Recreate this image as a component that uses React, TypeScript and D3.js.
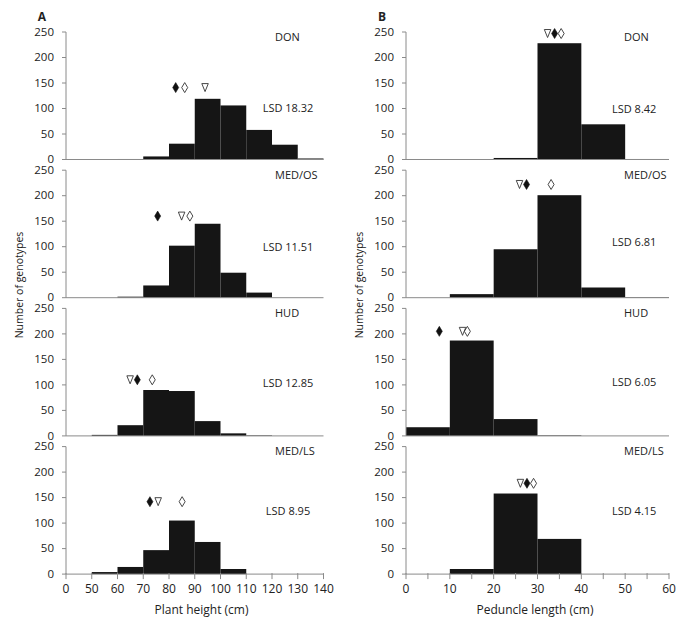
import React from 'react';
import * as d3 from 'd3';

// ---- data ----
const sites = ['DON', 'MED/OS', 'HUD', 'MED/LS'];

// Panel A: plant height, categorical-looking axis
const tickLabelsA = [0, 50, 60, 70, 80, 90, 100, 110, 120, 130, 140];
const donA = [0, 0, 1, 6, 31, 119, 106, 58, 29, 2];
const medosA = [0, 0, 2, 24, 102, 145, 49, 10, 0, 0];
const hudA = [0, 2, 21, 90, 88, 29, 5, 1, 0, 0];
const medlsA = [0, 4, 14, 47, 105, 63, 10, 0, 0, 0];
const lsdA = ['18.32', '11.51', '12.85', '8.95'];
const filledDiamondA = [82.6, 75.6, 67.7, 72.6];
const openDiamondA = [86.1, 88.1, 73.5, 85.1];
const triangleA = [94.0, 84.9, 64.9, 75.8];
const markerLevelA = [141, 160, 110, 142];

// Panel B: peduncle length
const binEdgesB = [0, 10, 20, 30, 40, 50, 60];
const donB = [0, 0, 3, 228, 69, 1];
const medosB = [0, 7, 95, 201, 20, 1];
const hudB = [17, 187, 33, 1, 0, 0];
const medlsB = [0, 10, 158, 69, 0, 0];
const lsdB = ['8.42', '6.81', '6.05', '4.15'];
const filledDiamondB = [33.9, 27.5, 7.6, 27.6];
const openDiamondB = [35.4, 33.1, 14.0, 29.1];
const triangleB = [32.3, 25.9, 12.9, 26.1];
const markerLevelB = [247, 222, 205, 178];

const yTicks = [0, 50, 100, 150, 200, 250];

// ---- layout ----
const W = 690, H = 628;
const rowTop0 = 32, rowStep = 138.2, rowH = 127.5;
const axA = { x0: 66, x1: 323.5 };
const axB = { x0: 406, x1: 669 };
const lsdOffset = [80, 80.5, 78.5, 68];
const lsdOffsetB = [81, 75.5, 77.5, 68.3];
const FONT = "'Open Sans', 'DejaVu Sans', sans-serif";
const AXIS = '#8a8a8a';
const BAR = '#151515';

function diamondPath(cx: number, cy: number, w = 6, h = 10) {
  return `M${cx},${cy - h / 2}L${cx + w / 2},${cy}L${cx},${cy + h / 2}L${cx - w / 2},${cy}Z`;
}
function trianglePath(cx: number, cy: number, w = 6.5, h = 8) {
  return `M${cx - w / 2},${cy - h / 2}L${cx + w / 2},${cy - h / 2}L${cx},${cy + h / 2}Z`;
}

type PanelProps = {
  idx: number;
  x: d3.ScaleLinear<number, number>;
  edges: number[];
  values: number[];
  ax: { x0: number; x1: number };
  site: string;
  lsd: string;
  lsdX: number;
  lsdAnchor: 'middle' | 'start';
  lsdOff: number;
  siteX: number;
  fd: number;
  od: number;
  tr: number;
  lvl: number;
};

function Panel(p: PanelProps) {
  const top = rowTop0 + p.idx * rowStep;
  const y = d3.scaleLinear().domain([0, 250]).range([top + rowH, top]);
  const y0 = y(0);
  const my = y(p.lvl);
  return (
    <g>
      {p.values.map((v, i) =>
        v > 0 ? (
          <rect
            key={i}
            x={p.x(p.edges[i])}
            width={p.x(p.edges[i + 1]) - p.x(p.edges[i])}
            y={y(v)}
            height={y0 - y(v)}
            fill={BAR}
          />
        ) : null
      )}
      {/* y axis */}
      <line x1={p.ax.x0} x2={p.ax.x0} y1={y(250)} y2={y0} stroke={AXIS} strokeWidth={1} />
      {yTicks.map((t) => (
        <g key={t}>
          <line x1={p.ax.x0 - 4} x2={p.ax.x0} y1={y(t)} y2={y(t)} stroke={AXIS} />
          <text x={p.ax.x0 - 12} y={y(t)} dy="0.33em" textAnchor="end" fontSize={11.5} fill="#222" fontFamily={FONT}>
            {t}
          </text>
        </g>
      ))}
      {/* x axis line */}
      <line x1={p.ax.x0} x2={p.ax.x1} y1={y0} y2={y0} stroke={AXIS} strokeWidth={1} />
      {/* markers */}
      <path d={diamondPath(p.x(p.fd), my)} fill="#111" stroke="#111" strokeWidth={0.6} />
      <path d={diamondPath(p.x(p.od), my)} fill="#fff" stroke="#333" strokeWidth={0.9} />
      <path d={trianglePath(p.x(p.tr), my)} fill="#fff" stroke="#333" strokeWidth={0.9} />
      <text x={p.siteX} y={top + 8.5} fontSize={11} fill="#222" fontFamily={FONT}>
        {p.site}
      </text>
      <text x={p.lsdX} y={top + p.lsdOff} textAnchor={p.lsdAnchor} fontSize={11} fill="#222" fontFamily={FONT}>
        {'LSD ' + p.lsd}
      </text>
    </g>
  );
}

export default function App() {
  const xA = d3
    .scaleLinear()
    .domain(tickLabelsA)
    .range(tickLabelsA.map((_, i) => axA.x0 + (i * (axA.x1 - axA.x0)) / (tickLabelsA.length - 1)));
  const xB = d3.scaleLinear().domain([0, 60]).range([axB.x0, axB.x1]);
  const dataA = [donA, medosA, hudA, medlsA];
  const dataB = [donB, medosB, hudB, medlsB];
  const bottomY0 = rowTop0 + 3 * rowStep + rowH;
  const ticksB = d3.range(0, 61, 5);

  return (
    <svg width={W} height={H} style={{ position: 'absolute', left: 0, top: 0, background: '#fff' }}>
      <rect width={W} height={H} fill="#fff" />
      <text x={42} y={21} textAnchor="middle" fontWeight="bold" fontSize={12} fontFamily={FONT} fill="#222">A</text>
      <text x={382} y={21} textAnchor="middle" fontWeight="bold" fontSize={12} fontFamily={FONT} fill="#222">B</text>
      {sites.map((s, i) => (
        <Panel
          key={'A' + i}
          idx={i}
          x={xA}
          edges={tickLabelsA}
          values={dataA[i]}
          ax={axA}
          site={s}
          lsd={lsdA[i]}
          lsdX={288}
          lsdAnchor="middle"
          lsdOff={lsdOffset[i]}
          siteX={275}
          fd={filledDiamondA[i]}
          od={openDiamondA[i]}
          tr={triangleA[i]}
          lvl={markerLevelA[i]}
        />
      ))}
      {sites.map((s, i) => (
        <Panel
          key={'B' + i}
          idx={i}
          x={xB}
          edges={binEdgesB}
          values={dataB[i]}
          ax={axB}
          site={s}
          lsd={lsdB[i]}
          lsdX={612}
          lsdAnchor="start"
          lsdOff={lsdOffsetB[i]}
          siteX={624}
          fd={filledDiamondB[i]}
          od={openDiamondB[i]}
          tr={triangleB[i]}
          lvl={markerLevelB[i]}
        />
      ))}
      {/* bottom x ticks A */}
      {tickLabelsA.map((t) => (
        <g key={'ta' + t}>
          <line x1={xA(t)} x2={xA(t)} y1={bottomY0 - 1} y2={bottomY0 + 5} stroke={AXIS} />
          <text x={xA(t)} y={593} textAnchor="middle" fontSize={12} fill="#222" fontFamily={FONT}>{t}</text>
        </g>
      ))}
      {ticksB.map((t) => (
        <g key={'tb' + t}>
          <line x1={xB(t)} x2={xB(t)} y1={bottomY0 - 1} y2={bottomY0 + 5} stroke={AXIS} />
          {t % 10 === 0 ? (
            <text x={xB(t)} y={593} textAnchor="middle" fontSize={12} fill="#222" fontFamily={FONT}>{t}</text>
          ) : null}
        </g>
      ))}
      <text x={201.5} y={614} textAnchor="middle" fontSize={12} fill="#222" fontFamily={FONT}>Plant height (cm)</text>
      <text x={535} y={614} textAnchor="middle" fontSize={12} fill="#222" fontFamily={FONT}>Peduncle length (cm)</text>
      <text transform="translate(23,285) rotate(-90)" textAnchor="middle" fontSize={10.5} fill="#222" fontFamily={FONT}>Number of genotypes</text>
      <text transform="translate(363,285) rotate(-90)" textAnchor="middle" fontSize={10.5} fill="#222" fontFamily={FONT}>Number of genotypes</text>
    </svg>
  );
}
